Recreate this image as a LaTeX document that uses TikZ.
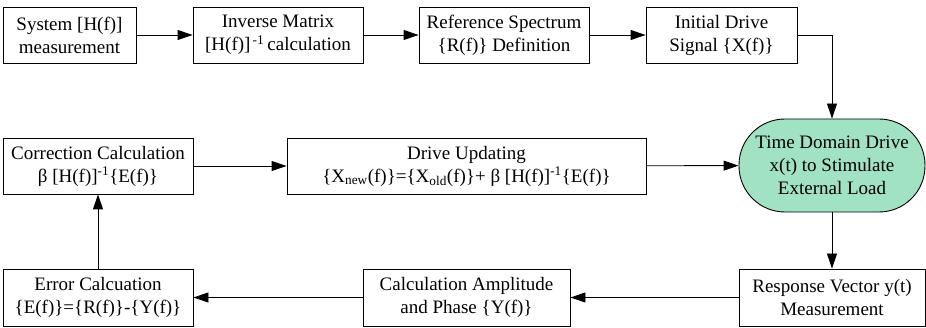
\documentclass[tikz,border=0pt]{standalone}
\usepackage{fontspec}
\setmainfont{Liberation Serif}
\usetikzlibrary{arrows.meta}
\definecolor{drivefill}{RGB}{160,226,194}
\begin{document}
\begin{tikzpicture}[x=1pt,y=-1pt,
  box/.style={draw,line width=0.9pt,align=center,inner sep=0pt,
    font=\fontsize{19}{23}\selectfont,minimum height=56pt},
  stadium/.style={box,fill=drivefill,rounded corners=46pt,minimum height=93pt},
  flow/.style={line width=0.9pt,-{Triangle[length=15pt,width=10pt]}}]
\useasboundingbox (0,0) rectangle (926,328);
% top row
\node[box,minimum width=133pt] (hm) at (69.5,35) {System [H(f)]\\measurement};
\node[box,minimum width=170pt] (inv) at (278,35) {Inverse Matrix\\{}[H(f)]\textsuperscript{\,-1}\,calculation};
\node[box,minimum width=170pt] (ref) at (504,35) {Reference Spectrum\\\{R(f)\} Definition};
\node[box,minimum width=151pt] (init) at (721.5,35) {Initial Drive\\Signal \{X(f)\}};
% middle row
\node[box,minimum width=190pt] (corr) at (98,166) {Correction Calculation\\β [H(f)]\textsuperscript{-1}\{E(f)\}};
\node[box,minimum width=359pt] (upd) at (466.5,166) {Drive Updating\\\{X\textsubscript{new}(f)\}=\{X\textsubscript{old}(f)\}+ β [H(f)]\textsuperscript{-1}\{E(f)\}};
\node[stadium,minimum width=186pt] (drive) at (832,165.5) {Time Domain Drive\\x(t) to Stimulate\\External Load};
% bottom row
\node[box,minimum width=190pt,minimum height=57pt] (err) at (98,297.5) {Error Calcuation\\\{E(f)\}=\{R(f)\}-\{Y(f)\}};
\node[box,minimum width=207pt,minimum height=57pt] (amp) at (466.5,297.5) {Calculation Amplitude\\and Phase \{Y(f)\}};
\node[box,minimum width=186pt,minimum height=57pt] (resp) at (832,297.5) {Response Vector y(t)\\Measurement};
% connectors
\draw[flow] (hm) -- (inv);
\draw[flow] (inv) -- (ref);
\draw[flow] (ref) -- (init);
\draw[flow] (init.east) -| (drive.north);
\draw[flow] (corr) -- (upd);
\draw[flow] (upd) -- (drive);
\draw[flow] (drive) -- (resp);
\draw[flow] (resp) -- (amp);
\draw[flow] (amp) -- (err);
\draw[flow] (err) -- (corr);
\end{tikzpicture}
\end{document}
